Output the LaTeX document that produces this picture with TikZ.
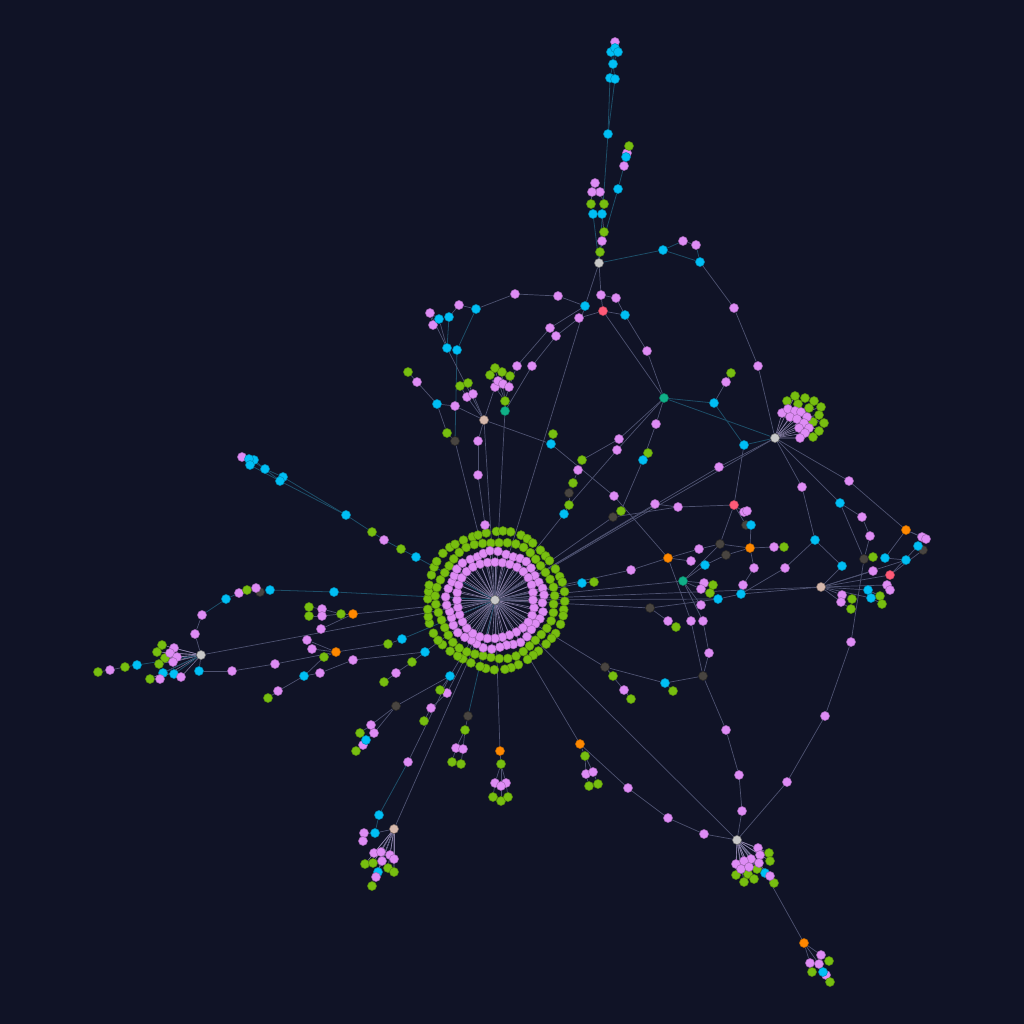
\documentclass[tikz,border=0pt]{standalone}
\definecolor{cbg}{RGB}{16,19,38}
\definecolor{cvio}{RGB}{222,140,245}
\definecolor{cgrn}{RGB}{119,190,16}
\definecolor{ccya}{RGB}{0,191,245}
\definecolor{chub}{RGB}{200,200,200}
\definecolor{ctan}{RGB}{214,184,172}
\definecolor{corg}{RGB}{255,136,0}
\definecolor{cred}{RGB}{255,90,120}
\definecolor{ctea}{RGB}{16,176,136}
\definecolor{cdkg}{RGB}{72,68,64}
\definecolor{clnk}{RGB}{78,82,112}
\definecolor{ccln}{RGB}{30,78,104}
\definecolor{cspk}{RGB}{150,140,180}
\pgfdeclarelayer{edges}
\pgfsetlayers{edges,main}
\begin{document}
\begin{tikzpicture}[x=0.02cm,y=-0.02cm,
  dotnode/.style={circle,inner sep=0pt,minimum size=0.18cm,line width=0.3pt},
  vio/.style={dotnode,fill=cvio,draw=cvio!75!black},
  grn/.style={dotnode,fill=cgrn,draw=cgrn!75!black},
  cya/.style={dotnode,fill=ccya,draw=ccya!75!black},
  hubnode/.style={dotnode,fill=chub,draw=chub!60!black},
  tannode/.style={dotnode,fill=ctan,draw=ctan!60!black},
  org/.style={dotnode,fill=corg,draw=corg!75!black},
  rd/.style={dotnode,fill=cred,draw=cred!75!black},
  tea/.style={dotnode,fill=ctea,draw=ctea!75!black},
  dkg/.style={dotnode,fill=cdkg,draw=cdkg!60!black},
  link/.style={draw=clnk,line width=0.4pt},
  clink/.style={draw=ccln,line width=0.45pt},
  spoke/.style={draw=cspk,line width=0.35pt,opacity=0.8}]
\useasboundingbox (0,0) rectangle (1024,1024);
% hubs and special nodes
\foreach \n/\x/\y in {C/495/600,T/599/263,R/775/438,L/201/655,B/737/840}
  \node[hubnode] (\n) at (\x,\y) {};
\foreach \n/\x/\y in {P/484/420,Q/821/587,S/394/829}
  \node[tannode] (\n) at (\x,\y) {};
\foreach \n/\x/\y in {rA/603/311,rB/734/505,rC/890/575}
  \node[rd] (\n) at (\x,\y) {};
\foreach \n/\x/\y in {eA/664/398,eB/505/411,eC/683/581}
  \node[tea] (\n) at (\x,\y) {};
\foreach \n/\x/\y in {oA/668/558,oB/750/548,oC/906/530,oD/353/614,oE/336/652,oF/500/751,oG/580/744,oH/804/943}
  \node[org] (\n) at (\x,\y) {};
\foreach \n/\x/\y in {dA/455/441,dB/569/493,dC/613/517,dD/746/525,dE/720/544,dF/726/555,dG/864/559,dH/923/550,dI/650/608,dJ/703/676,dK/605/667,dL/396/706,dM/468/716,dN/260/592}
  \node[dkg] (\n) at (\x,\y) {};
% central ring
\foreach \i in {1,...,52}
  \node[grn] (gd\i) at ({495+(68.5+1.5*sin(37*\i))*cos(360/52*\i+1.2*sin(113*\i))},{600+(68.5+1.5*sin(37*\i))*sin(360/52*\i+1.2*sin(113*\i))}) {};
\foreach \i in {1,...,44}
  \node[grn] (gc\i) at ({495+(58.5+1.5*sin(53*\i))*cos(360/44*\i+4)},{600+(58.5+1.5*sin(53*\i))*sin(360/44*\i+4)}) {};
\foreach \i in {1,...,40}
  \node[vio] (vb\i) at ({495+(48+1.5*sin(77*\i))*cos(9*\i+4+sin(71*\i))},{600+(48+1.5*sin(77*\i))*sin(9*\i+4+sin(71*\i))}) {};
\foreach \i in {1,...,32}
  \node[vio] (va\i) at ({495+(39+1.2*sin(41*\i))*cos(11.25*\i)},{600+(39+1.2*sin(41*\i))*sin(11.25*\i)}) {};
% violet nodes
\foreach \n/\x/\y in {ta2/602/241,ta6/600/192,tb3/592/192,tb4/595/183,tc8/615/42,td2/624/166,td4/627/153,te2/683/241,te3/696/245,te5/734/308,te6/758/366,
  ua1/515/294,ua2/558/296,ua4/601/295,ua5/616/298,ua7/579/318,ua8/550/328,ua9/556/336,ua10/517/366,ua11/532/366,ua12/647/351,
  pa2/459/305,pa3/430/313,pa6/433/325,pa10/417/382,pa12/455/406,pa15/467/397,pa16/473/394,pa18/478/441,pa19/478/475,pa20/485/525,
  qa5/495/387,qa6/498/381,qa7/503/384,qa8/509/387,
  ma2/726/382,ma5/656/424,ma8/619/439,ma9/617/450,ma13/578/470,ma17/614/496,ma19/655/504,ma20/678/507,ma21/719/467,
  ra1/802/487,ra2/849/481,ra4/862/517,ra5/870/536,ra6/922/537,ra7/926/539,ra13/873/571,ra15/887/585,ra16/890/590,ra21/842/595,ra22/841/602,ra25/851/642,ra26/825/716,ra27/787/782,ra28/785/568,
  na1/744/512,na2/747/511,na4/774/547,na6/699/549,na7/691/561,na9/754/568,na10/743/585,na13/631/570,na14/704/583,na15/701/589,na18/701/605,na19/668/621,na21/691/621,na22/703/621,na23/709/653,
  la2/624/690,la6/726/730,la7/739/775,la8/742/811,la9/704/834,la10/668/818,la11/628/788,la13/586/774,la14/593/772,
  hv1/821/955,hv2/810/963,hv3/819/964,hv4/826/975,
  ba2/495/783,ba3/506/783,ba4/501/786,bb2/456/748,bb3/463/749,
  ka3/447/693,ka4/431/708,ka6/371/725,ka8/374/733,ka10/363/745,ka12/408/762,ka15/364/833,ka16/363/841,
  wa5/396/673,wa7/353/660,wa8/320/673,wa10/278/691,wa13/312/649,wa14/307/640,wa15/321/629,wa17/322/609,wa18/322/616,wa21/275/664,wa22/232/671,
  xa3/384/540,xa12/242/457,
  ya3/256/588,ya5/239/593,ya7/202/615,ya8/195/634,ya11/110/670}
  \node[vio] (\n) at (\x,\y) {};
% green nodes
\foreach \n/\x/\y in {ta1/600/252,ta3/604/232,ta5/604/204,tb2/591/204,td5/629/146,
  pa9/408/372,pa13/460/386,pa14/468/383,pa17/447/433,
  qa1/495/368,qa2/490/375,qa3/502/372,qa4/510/376,qa9/505/401,
  ma3/731/373,ma7/648/453,ma10/553/434,ma12/582/460,ma14/573/483,ma15/569/505,ma18/621/511,
  ra11/873/557,ra19/880/596,ra20/882/604,ra23/852/599,ra24/851/609,
  na5/784/547,na16/713/585,na17/710/593,na20/676/627,na25/594/582,
  la1/613/676,la3/631/699,la5/673/691,la12/585/756,la15/589/786,la16/598/784,
  hg1/829/961,hg2/812/972,hg3/830/982,
  ba1/501/764,ba5/493/797,ba6/501/801,ba7/508/797,bb1/465/730,bb4/452/762,bb5/461/764,
  ka2/440/690,ka5/424/721,ka7/360/733,ka11/356/751,
  wa2/388/644,wa4/412/662,wa6/384/682,wa11/268/698,wa12/324/657,wa16/341/614,wa19/309/607,wa20/309/616,
  xa2/401/549,xa4/372/532,
  ya4/247/590,ya10/125/667,ya12/98/672}
  \node[grn] (\n) at (\x,\y) {};
% cyan nodes
\foreach \n/\x/\y in {ta4/602/214,tb1/593/214,tc1/608/134,tc2/610/78,tc3/615/79,tc4/613/64,tc5/611/52,tc6/615/48,tc7/618/52,td1/618/189,td3/626/157,te1/663/250,te4/700/262,
  ua3/585/306,ua6/625/315,
  pa1/476/309,pa4/439/319,pa5/449/317,pa7/447/348,pa8/457/350,pa11/437/404,
  ma1/714/403,ma4/744/445,ma6/643/460,ma11/551/444,ma16/564/514,
  ra3/840/503,ra8/918/546,ra9/815/540,ra10/885/558,ra12/906/560,ra14/842/566,ra17/868/590,ra18/871/598,
  na3/751/525,na8/705/565,na11/741/594,na12/718/599,na24/582/583,
  la4/665/683,hc1/823/972,bc/765/873,
  ka1/450/676,ka9/366/740,ka13/379/815,ka14/375/833,sc/378/872,
  wa1/402/639,wa3/425/652,wa9/304/676,wa23/199/671,
  xa1/416/557,xa5/346/515,xa6/283/477,xa7/280/481,xa8/265/469,xa9/254/460,xa10/249/459,xa11/250/465,
  ya1/334/592,ya2/270/590,ya6/226/599,ya9/137/665,lc1/163/673,lc2/174/674}
  \node[cya] (\n) at (\x,\y) {};
% clusters round the hubs
\foreach \x/\y [count=\k] in {787/401,795/396,805/398,814/401,821/407,819/415,824/423,819/431,813/437,798/404,809/408,813/422}
  \node[grn] (rg\k) at (\x,\y) {};
\foreach \x/\y [count=\k] in {782/413,788/409,795/411,801/412,790/417,797/419,807/417,804/423,799/428,809/428,805/433,800/438}
  \node[vio] (rv\k) at (\x,\y) {};
\foreach \x/\y [count=\k] in {769/853,770/861,757/869,736/875,748/874,754/879,744/882,774/883}
  \node[grn] (bg\k) at (\x,\y) {};
\foreach \x/\y [count=\k] in {758/848,760/855,751/859,744/861,736/864,741/869,749/867,759/863,770/876}
  \node[vio] (bv\k) at (\x,\y) {};
\foreach \x/\y [count=\k] in {365/864,373/863,388/868,394/872,372/886}
  \node[grn] (sg\k) at (\x,\y) {};
\foreach \x/\y [count=\k] in {374/853,381/852,390/855,394/859,382/861,376/877}
  \node[vio] (sv\k) at (\x,\y) {};
\foreach \x/\y [count=\k] in {162/645,157/652,165/658,159/664,150/679}
  \node[grn] (lg\k) at (\x,\y) {};
\foreach \x/\y [count=\k] in {174/648,170/653,177/657,173/662,160/679,181/677}
  \node[vio] (lv\k) at (\x,\y) {};
\begin{pgfonlayer}{edges}
\fill[cbg] (0,0) rectangle (1024,1024);
\foreach \i in {1,...,32} \draw[spoke] (C) -- (va\i);
\foreach \i in {1,...,40} \draw[spoke] (C) -- (vb\i);
\foreach \k in {1,...,12} \draw[spoke] (R) -- (rv\k) (rv\k) -- (rg\k);
\foreach \k in {1,...,9} \draw[spoke] (B) -- (bv\k);
\foreach \k in {1,...,8} \draw[spoke] (B) -- (bg\k);
\foreach \k in {1,...,6} \draw[spoke] (S) -- (sv\k);
\foreach \k in {1,...,5} \draw[spoke] (S) -- (sg\k) (L) -- (lg\k);
\foreach \k in {1,...,6} \draw[spoke] (L) -- (lv\k);
\foreach \a/\b in {T/tc1,tc1/tc2,tc1/tc3,tc2/tc4,tc3/tc4,tc4/tc5,tc4/tc6,tc4/tc7,tc6/tc8,ta1/td1,td1/td2,td2/td3,td3/td4,td4/td5,
  T/te1,te1/te2,te1/te4,te3/te4,T/tb1,eA/ma1,ma1/ma4,ma4/R,eA/R,
  C/xa1,xa1/xa2,xa2/xa3,xa3/xa4,xa4/xa5,xa5/xa6,xa5/xa7,xa6/xa8,xa7/xa8,xa8/xa9,xa8/xa10,xa7/xa11,xa11/xa10,xa10/xa12,xa9/xa12,
  C/ya1,ya1/ya2,ya2/dN,ya5/ya6,ya6/ya7,L/ya9,ya9/ya10,L/lc1,L/lc2,pa1/pa8,pa8/dA,pa5/pa7,ka12/ka13,ka13/ka14,ka14/ka15,dM/C,wa1/C}
  \draw[clink] (\a) -- (\b);
\foreach \a/\b in {T/ta1,ta1/ta2,ta2/ta3,ta3/ta4,ta4/ta5,ta5/ta6,tb1/tb2,tb2/tb3,tb3/tb4,te2/te3,te4/te5,te5/te6,te6/R,
  T/ua4,T/ua3,ua4/rA,ua4/ua5,ua5/ua6,rA/ua6,rA/ua7,rA/eA,ua6/ua12,ua12/eA,ua1/ua2,ua2/ua3,ua3/ua8,ua7/ua9,ua8/ua10,ua9/ua11,ua11/eB,ua3/C,ua10/qa8,
  ua1/pa1,pa1/pa2,pa2/pa5,pa3/pa4,pa3/pa7,pa4/pa7,pa7/P,dA/C,P/pa12,pa12/pa11,pa11/pa10,pa10/pa9,pa11/pa17,pa17/dA,pa6/pa3,
  P/pa15,P/pa16,pa15/pa13,pa16/pa14,P/qa5,P/ma11,ma11/ma10,ma11/ma17,P/pa18,pa18/pa19,pa19/pa20,P/C,
  eB/qa9,qa9/qa5,qa9/qa6,qa9/qa7,qa9/qa8,qa5/qa2,qa6/qa1,qa7/qa3,qa8/qa4,eB/C,
  ma1/ma2,ma2/ma3,ma4/rB,eA/ma5,ma5/ma6,ma6/ma7,ma6/ma18,ma18/dC,eA/ma8,eA/ma9,ma8/ma12,ma9/ma15,ma12/ma13,ma13/ma14,ma14/dB,dB/ma15,ma15/ma16,ma16/C,
  R/ra1,ra1/ra9,ra9/ra14,ra9/ra28,ra28/na11,R/ra3,ra3/ra4,ra4/ra5,ra5/dG,ra3/dG,R/ra2,ra2/oC,R/ma21,ma21/C,R/C,
  oC/ra6,oC/ra7,oC/ra10,ra8/rC,dH/rC,ra8/dH,ra10/ra12,dG/ra11,Q/ra14,Q/ra21,Q/ra22,ra21/ra23,ra22/ra24,Q/ra17,Q/ra18,ra17/ra19,ra18/ra20,
  Q/rC,Q/ra13,Q/ra12,Q/ra15,ra15/ra16,dG/ra25,ra25/ra26,ra26/ra27,ra27/B,Q/C,Q/na11,
  rB/na1,na1/na2,rB/dD,dD/na3,na3/oB,rB/ma20,ma20/ma19,ma19/C,dC/ma20,rB/dE,dE/na6,dE/oB,dF/oB,oB/na4,na4/na5,oB/na9,na9/na10,na10/na11,na11/na12,na12/C,
  oA/na6,oA/na7,oA/na13,na13/C,oA/ma17,oA/na21,na21/dJ,dF/na8,eC/na8,eC/dE,eC/na14,eC/na15,na14/na16,na15/na17,eC/C,eC/na18,eC/na22,na22/na23,na23/dJ,
  dI/na19,na19/na20,dI/na12,dI/C,na24/na25,na24/C,dC/C,
  dJ/la4,la4/la5,la4/dK,dK/la1,dK/la2,la2/la3,dK/C,dJ/la6,la6/la7,la7/la8,la8/B,B/la9,la9/la10,la10/la11,la11/oG,oG/C,
  oG/la12,la12/la13,la12/la14,la13/la15,la14/la16,B/C,B/bc,bc/oH,oH/hv1,oH/hv2,oH/hv3,hv3/hc1,hv2/hg2,hv1/hg1,hc1/hv4,hv4/hg3,
  C/oF,oF/ba1,ba1/ba2,ba1/ba3,ba1/ba4,ba2/ba5,ba4/ba6,ba3/ba7,dM/bb1,bb1/bb2,bb1/bb3,bb2/bb4,bb3/bb5,
  C/ka1,ka1/ka2,ka1/dL,C/ka3,ka3/ka4,ka4/ka5,dL/ka6,ka6/ka7,dL/ka8,ka8/ka9,ka9/ka10,ka10/ka11,ka1/ka12,ka15/ka16,ka14/S,S/C,S/sc,
  wa1/wa2,wa2/oE,oE/wa13,oE/wa14,oE/wa12,wa12/wa9,wa9/wa10,wa10/wa11,C/wa3,wa3/wa4,wa4/wa5,wa5/wa6,wa3/wa7,wa7/wa8,wa8/wa9,
  C/oD,oD/wa16,wa16/wa17,wa16/wa18,wa17/wa19,wa18/wa20,oD/wa15,wa21/oE,wa21/wa22,wa22/wa23,wa23/L,L/C,
  dN/ya3,ya3/ya4,ya4/ya5,ya7/ya8,ya8/L,ya10/ya11,ya11/ya12}
  \draw[link] (\a) -- (\b);
\end{pgfonlayer}
\end{tikzpicture}
\end{document}
